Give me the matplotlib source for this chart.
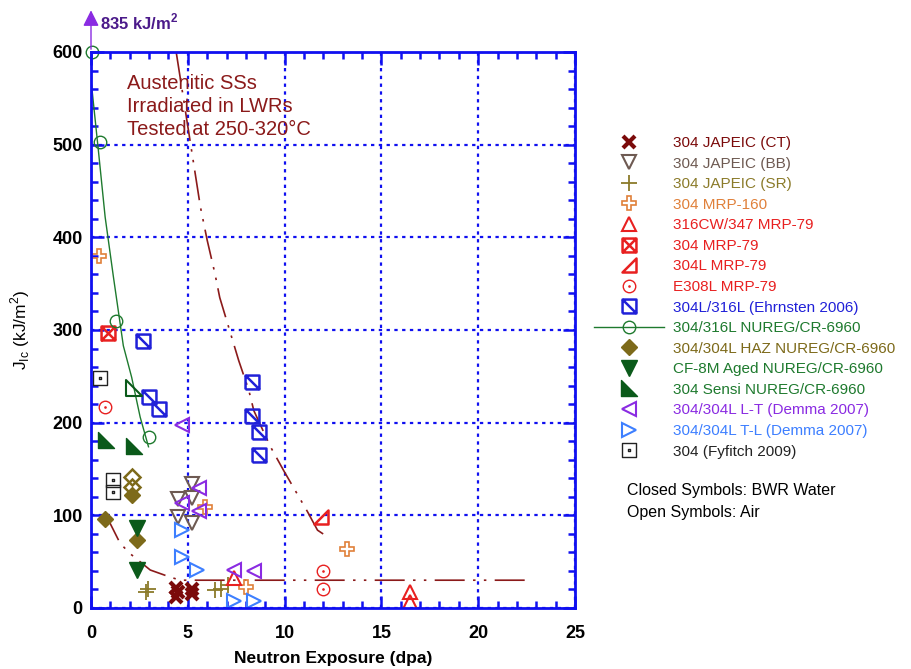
import numpy as np
import matplotlib
matplotlib.use('Agg')
import matplotlib.pyplot as plt
from matplotlib.path import Path
from matplotlib.lines import Line2D
from matplotlib.ticker import MultipleLocator

plt.rcParams['font.family'] = ['Liberation Sans', 'DejaVu Sans']
plt.rcParams['mathtext.fontset'] = 'custom'
plt.rcParams['mathtext.rm'] = 'Liberation Sans'
plt.rcParams['mathtext.bf'] = 'Liberation Sans:bold'

# data (dpa, kJ/m2)
ct_x = [4.4, 4.4, 4.5, 5.2, 5.2]
ct_y = [22, 12, 17, 20, 15]
bb_x = [5.2, 4.5, 5.2, 4.5, 5.2]
bb_y = [134, 118, 119, 98, 92]
sr_x = [2.85, 2.95, 6.4, 6.7, 7.1]
sr_y = [17, 21, 19, 21, 25]
mrp160_x = [0.4, 5.9, 8.0, 13.2]
mrp160_y = [380, 109, 23, 64]
cw347_x = [7.4, 16.5, 16.5]
cw347_y = [32, 17, 7]
m79_304_x = [0.9]
m79_304_y = [297]
m79_304l_x = [11.9]
m79_304l_y = [98]
e308l_x = [0.7, 12.0, 12.0]
e308l_y = [217, 40, 20]
ehr_x = [2.7, 3.0, 3.5, 8.3, 8.3, 8.7, 8.7]
ehr_y = [288, 228, 215, 244, 207, 190, 165]
nureg_x = [0.05, 0.45, 1.3, 3.0]
nureg_y = [600, 503, 310, 184]
haz_x = [0.7, 2.1, 2.4]
haz_y = [96, 122, 73]
haz_open_x = [2.1, 2.1]
haz_open_y = [141, 131]
cf8m_x = [2.4, 2.4]
cf8m_y = [86, 41]
sensi_x = [0.8, 2.2]
sensi_y = [181, 175]
sensi_open_x = [2.2]
sensi_open_y = [237]
lt_x = [4.7, 5.6, 4.7, 5.6, 7.4, 8.4]
lt_y = [198, 130, 113, 105, 41, 40]
tl_x = [4.7, 4.7, 5.5, 7.4, 8.4]
tl_y = [84, 55, 41, 8, 7.5]
fyf_x = [0.45, 1.15, 1.15]
fyf_y = [248, 138, 125]

# trend curves
green_x = [0.03, 0.38, 0.73, 1.16, 1.67, 2.1, 2.54, 2.97]
green_y = [564, 494, 422, 357, 283, 249, 206, 174]
steep_x = [4.4, 5.65, 6.0, 6.4, 6.65, 7.63, 8.15, 8.41, 9.27, 9.96, 11.18, 11.7, 12.2]
steep_y = [600, 433, 397, 361, 335, 267, 235, 213, 174, 148, 104, 84, 77]
low_x = [0.6, 0.9, 1.5, 2.0, 3.06, 4.0, 4.6, 22.6]
low_y = [100, 95, 70, 59, 41, 34, 30, 30]

# custom markers
M, L = Path.MOVETO, Path.LINETO
boxx = Path([(-1, -1), (1, -1), (1, 1), (-1, 1), (-1, -1), (1, 1), (-1, 1), (1, -1)],
            [M, L, L, L, L, L, M, L])
boxdiag = Path([(-1, -1), (1, -1), (1, 1), (-1, 1), (-1, -1), (-1, 1), (1, -1)],
               [M, L, L, L, L, M, L])
rtri = Path([(-1, -1), (1, -1), (1, 1), (-1, -1)], [M, L, L, Path.CLOSEPOLY])
ltri = Path([(-1, 1), (-1, -1), (1, -1), (-1, 1)], [M, L, L, Path.CLOSEPOLY])
circdot = Path.make_compound_path(Path.circle((0, 0), 1), Path.circle((0, 0), 0.1))
sqdot = Path.make_compound_path(
    Path([(-1, -1), (1, -1), (1, 1), (-1, 1), (-1, -1)], [M, L, L, L, Path.CLOSEPOLY]),
    Path([(-.08, -.08), (.08, -.08), (.08, .08), (-.08, .08), (-.08, -.08)], [M, L, L, L, Path.CLOSEPOLY]))

c_ct = '#7B0A0A'
c_bb = '#6E5A52'
c_sr = '#8B7B2A'
c_160 = '#E0803A'
c_red = '#E82020'
c_ehr = '#2020D8'
c_ng = '#1E7A2E'
c_haz = '#7D6A1A'
c_dg = '#0B5A1A'
c_lt = '#8A2BE2'
c_tl = '#3D7FFF'
c_fy = '#222222'
c_trend = '#8B1A1A'

fig = plt.figure(figsize=(9.12, 6.69), dpi=100)
ax = fig.add_axes([91/912, 1-608/669, 484/912, 556/669])

dashdot2 = (0, (18, 5, 1.5, 5, 1.5, 5))
ax.plot(steep_x, steep_y, color=c_trend, lw=1.2, linestyle=dashdot2)
ax.plot(low_x, low_y, color=c_trend, lw=1.2, linestyle=dashdot2)
ax.plot(green_x, green_y, color=c_ng, lw=1.0)

h = []
h.append(ax.plot(ct_x, ct_y, 'x', ms=9, mew=3, color=c_ct, label='304 JAPEIC (CT)')[0])
h.append(ax.plot(bb_x, bb_y, 'v', ms=10, mew=1.5, mfc='none', mec=c_bb, label='304 JAPEIC (BB)')[0])
h.append(ax.plot(sr_x, sr_y, '+', ms=11, mew=1.3, color=c_sr, label='304 JAPEIC (SR)')[0])
h.append(ax.plot(mrp160_x, mrp160_y, 'P', ms=10, mew=1.2, mfc='none', mec=c_160, label='304 MRP-160')[0])
h.append(ax.plot(cw347_x, cw347_y, '^', ms=10, mew=1.5, mfc='none', mec=c_red, label='316CW/347 MRP-79')[0])
h.append(ax.plot(m79_304_x, m79_304_y, marker=boxx, ls='none', ms=10, mew=1.8, mfc='none', mec=c_red, label='304 MRP-79')[0])
h.append(ax.plot(m79_304l_x, m79_304l_y, marker=rtri, ls='none', ms=10, mew=1.8, mfc='none', mec=c_red, label='304L MRP-79')[0])
h.append(ax.plot(e308l_x, e308l_y, marker=circdot, ls='none', ms=9, mew=1.0, mfc='none', mec=c_red, label='E308L MRP-79')[0])
h.append(ax.plot(ehr_x, ehr_y, marker=boxdiag, ls='none', ms=10, mew=1.8, mfc='none', mec=c_ehr, label='304L/316L (Ehrnsten 2006)')[0])
ax.plot(nureg_x, nureg_y, 'o', ms=9, mew=1.0, mfc='none', mec=c_ng, clip_on=False)
h.append(Line2D([], [], color=c_ng, lw=1.0, marker='o', ms=9, mew=1.0, mfc='none', mec=c_ng,
                label='304/316L NUREG/CR-6960'))
h.append(ax.plot(haz_x, haz_y, 'D', ms=8, color=c_haz, label='304/304L HAZ NUREG/CR-6960')[0])
ax.plot(haz_open_x, haz_open_y, 'D', ms=8, mew=1.8, mfc='none', mec=c_haz)
h.append(ax.plot(cf8m_x, cf8m_y, 'v', ms=11, color=c_dg, label='CF-8M Aged NUREG/CR-6960')[0])
h.append(ax.plot(sensi_x, sensi_y, marker=ltri, ls='none', ms=11, color=c_dg, label='304 Sensi NUREG/CR-6960')[0])
ax.plot(sensi_open_x, sensi_open_y, marker=ltri, ls='none', ms=11, mew=1.5, mfc='none', mec=c_dg)
h.append(ax.plot(lt_x, lt_y, '<', ms=10, mew=1.5, mfc='none', mec=c_lt, label='304/304L L-T (Demma 2007)')[0])
h.append(ax.plot(tl_x, tl_y, '>', ms=10, mew=1.5, mfc='none', mec=c_tl, label='304/304L T-L (Demma 2007)')[0])
h.append(ax.plot(fyf_x, fyf_y, marker=sqdot, ls='none', ms=10, mew=1.0, mfc='none', mec=c_fy, label='304 (Fyfitch 2009)')[0])

ax.set_xlim(0, 25)
ax.set_ylim(0, 600)
ax.xaxis.set_major_locator(MultipleLocator(5))
ax.xaxis.set_minor_locator(MultipleLocator(1))
ax.yaxis.set_major_locator(MultipleLocator(100))
ax.yaxis.set_minor_locator(MultipleLocator(20))
ax.grid(True, which='major', color='#1010F0', linestyle=(0, (1.5, 2)), lw=1.6)
ax.tick_params(which='both', direction='in', top=True, right=True, color='#1010F0', width=1.8)
ax.tick_params(which='major', length=9, labelsize=13)
ax.tick_params(which='minor', length=5)
ax.tick_params(axis='x', which='major', pad=12)
ax.tick_params(axis='y', which='major', pad=6)
for t in ax.get_xticklabels() + ax.get_yticklabels():
    t.set_fontweight('bold')
for s in ax.spines.values():
    s.set_color('#1010F0')
    s.set_linewidth(2)

ax.set_xlabel('Neutron Exposure (dpa)', fontsize=12.5, fontweight='bold', labelpad=7)
ax.set_ylabel(r'J$_{\mathregular{Ic}}$ (kJ/m$^{\mathregular{2}}$)', fontsize=12.5, labelpad=15)

ax.text(0.075, 0.96, 'Austenitic SSs\nIrradiated in LWRs\nTested at 250-320\u00b0C',
        transform=ax.transAxes, ha='left', va='top', fontsize=14.5, color=c_trend, linespacing=1.25)

ax.annotate('', xy=(0, 1.08), xytext=(0, 1.0), xycoords='axes fraction',
            arrowprops=dict(arrowstyle='-|>', color='#8A2BE2', lw=1.0, mutation_scale=24))
ax.text(0.019, 1.053, r'835 kJ/m$^{\mathregular{2}}$', transform=ax.transAxes, ha='left', va='center',
        fontsize=12, fontweight='bold', color='#4B1A8A')

cols = [c_ct, c_bb, c_sr, c_160, c_red, c_red, c_red, c_red, c_ehr, c_ng, c_haz, c_ng, c_ng,
        c_lt, c_tl, c_fy]
leg = ax.legend(handles=h, loc='upper left', bbox_to_anchor=(594/912, 1-136/669),
                bbox_transform=fig.transFigure, frameon=False, fontsize=11,
                handlelength=4.6, handletextpad=0.6, labelspacing=0.43, borderpad=0,
                borderaxespad=0, labelcolor=cols)

fig.text(627/912, 1-490/669, 'Closed Symbols: BWR Water', fontsize=11.5, va='center', color='black')
fig.text(627/912, 1-513/669, 'Open Symbols: Air', fontsize=11.5, va='center', color='black')

fig.savefig('out.png', dpi=100)
